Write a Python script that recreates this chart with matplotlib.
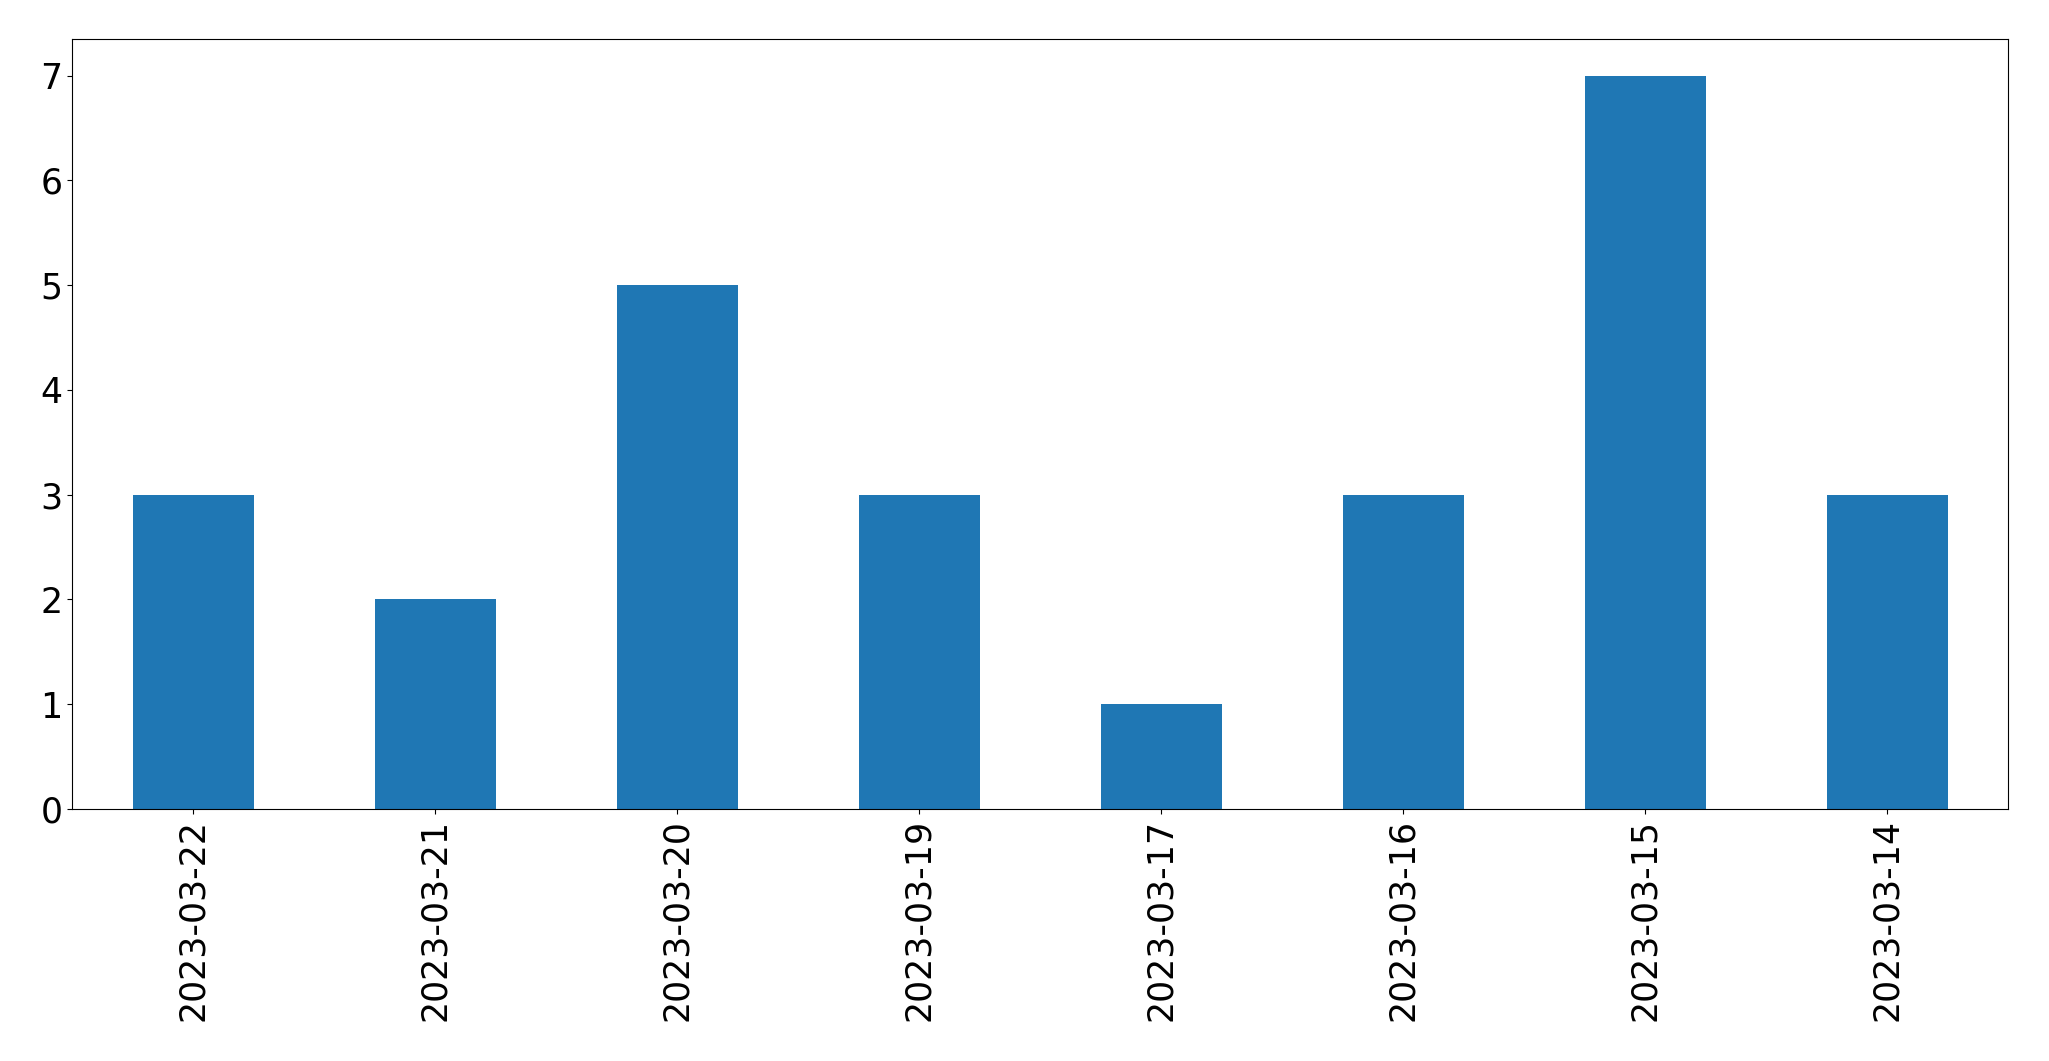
import matplotlib
matplotlib.use("Agg")
import matplotlib.pyplot as plt
import numpy as np

dates = ["2023-03-22", "2023-03-21", "2023-03-20", "2023-03-19",
         "2023-03-17", "2023-03-16", "2023-03-15", "2023-03-14"]
counts = [3, 2, 5, 3, 1, 3, 7, 3]

fig = plt.figure(figsize=(20.49, 10.61), dpi=100)
ax = fig.add_axes([72/2049, 1 - 809/1061, (2008-72)/2049, (809-39)/1061])
x = np.arange(len(dates))
ax.bar(x, counts, width=0.5, color="#1f77b4")
ax.set_xlim(-0.5, len(dates) - 0.5)
ax.set_xticks(x)
ax.set_xticklabels(dates, rotation=90)
ax.tick_params(labelsize=25)
fig.savefig("out.png", dpi=100)
